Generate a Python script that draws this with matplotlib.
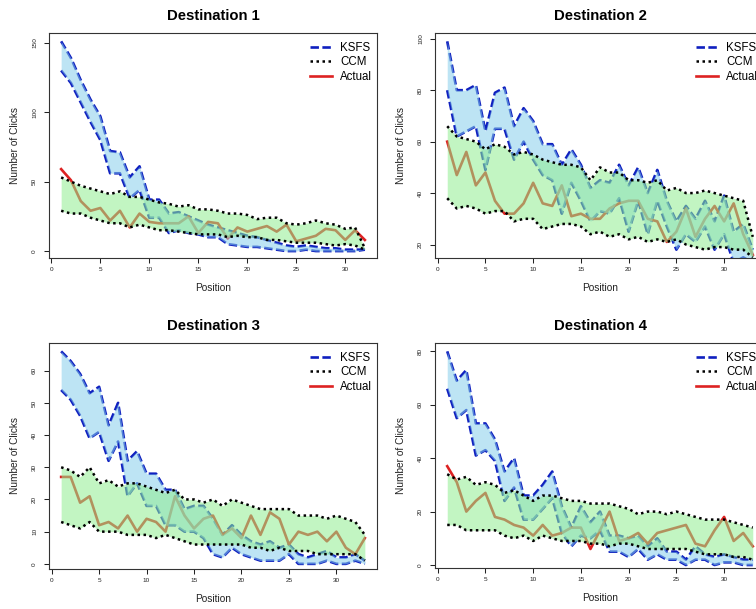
import numpy as np
import matplotlib
matplotlib.use('Agg')
import matplotlib.pyplot as plt
from matplotlib.lines import Line2D

plt.rcParams['font.family'] = ['Liberation Sans', 'DejaVu Sans']

# ---- data ----
titles = ['Destination 1', 'Destination 2', 'Destination 3', 'Destination 4']

ksfs_hi_1 = [151, 139, 123, 109, 97, 72, 71, 53, 61, 37, 37, 27, 28, 25, 22, 19,
             17, 15, 13, 11, 10, 8, 6, 4, 3, 4, 3, 2, 2, 1, 1, 1]
ksfs_lo_1 = [130, 121, 107, 93, 80, 56, 56, 38, 44, 24, 24, 13, 15, 13, 12, 10,
             10, 5, 4, 3, 3, 2, 1, 0, 0, 1, 0, 0, 0, 0, 0, 1]
ccm_hi_1 = [53, 50, 47, 45, 43, 41, 43, 39, 39, 37, 35, 34, 32, 33, 30, 30,
            29, 27, 27, 26, 23, 24, 24, 20, 19, 20, 22, 20, 19, 16, 17, 2]
ccm_lo_1 = [29, 27, 27, 24, 22, 20, 20, 17, 19, 17, 15, 15, 14, 13, 12, 12,
            12, 10, 11, 10, 10, 8, 8, 7, 6, 6, 6, 5, 4, 5, 4, 1]
actual_1 = [59, 51, 36, 29, 31, 22, 29, 17, 27, 21, 20, 20, 20, 25, 13, 21,
            20, 9, 17, 14, 16, 18, 14, 19, 7, 9, 11, 16, 15, 8, 15, 8]

ksfs_hi_2 = [99, 80, 80, 82, 64, 79, 81, 66, 73, 68, 59, 59, 51, 57, 51, 42, 45,
             44, 51, 43, 50, 40, 49, 37, 29, 35, 30, 37, 29, 39, 25, 28, 18]
ksfs_lo_2 = [80, 62, 64, 66, 49, 65, 65, 53, 60, 53, 47, 45, 32, 44, 37, 29, 33,
             32, 38, 25, 37, 24, 37, 27, 18, 24, 21, 27, 18, 24, 13, 15, 13]
ccm_hi_2 = [66, 62, 61, 60, 57, 59, 58, 55, 56, 55, 53, 52, 51, 51, 50, 45, 50,
            48, 48, 45, 45, 44, 45, 41, 42, 40, 40, 41, 40, 39, 38, 37, 23]
ccm_lo_2 = [38, 34, 35, 34, 32, 33, 33, 29, 30, 30, 26, 27, 28, 28, 27, 24, 25,
            23, 24, 22, 23, 21, 22, 21, 22, 20, 19, 18, 19, 19, 18, 18, 15]
actual_2 = [60, 47, 56, 43, 48, 37, 32, 32, 36, 44, 36, 35, 43, 31, 32, 30, 30,
            34, 36, 37, 37, 30, 29, 21, 25, 34, 23, 30, 35, 29, 36, 24, 16]

ksfs_hi_3 = [66, 63, 59, 53, 55, 43, 50, 32, 35, 28, 28, 23, 23, 17, 18, 18, 14,
             9, 12, 9, 7, 6, 7, 5, 6, 3, 2, 3, 4, 2, 2, 3, 1]
ksfs_lo_3 = [54, 51, 46, 39, 41, 32, 38, 21, 25, 18, 18, 12, 12, 10, 10, 8, 3,
             2, 5, 3, 2, 1, 1, 1, 3, 0, 0, 0, 1, 0, 0, 1, 0]
ccm_hi_3 = [30, 29, 27, 30, 25, 26, 24, 25, 25, 24, 23, 22, 23, 20, 20, 19, 20,
            18, 20, 19, 18, 17, 17, 17, 17, 15, 15, 15, 14, 15, 14, 13, 9]
ccm_lo_3 = [13, 12, 11, 13, 10, 10, 10, 9, 9, 9, 8, 9, 8, 7, 6, 6, 6,
            6, 6, 6, 5, 5, 4, 5, 4, 4, 4, 3, 3, 3, 3, 3, 1]
actual_3 = [27, 27, 19, 21, 12, 13, 11, 15, 10, 14, 13, 10, 21, 15, 11, 14, 15,
            9, 11, 8, 15, 9, 16, 14, 6, 10, 9, 10, 7, 10, 5, 3, 8]

ksfs_hi_4 = [80, 69, 73, 53, 53, 47, 35, 40, 26, 26, 30, 35, 22, 14, 22, 16, 20,
             11, 11, 10, 11, 7, 10, 5, 5, 2, 7, 4, 3, 4, 3, 2, 2]
ksfs_lo_4 = [66, 55, 58, 41, 43, 39, 24, 29, 17, 17, 21, 25, 12, 7, 11, 10, 13,
             5, 5, 3, 6, 2, 4, 2, 2, 0, 2, 2, 0, 1, 1, 0, 0]
ccm_hi_4 = [34, 32, 33, 30, 31, 30, 27, 28, 26, 24, 26, 26, 25, 24, 24, 23, 23,
            23, 22, 21, 19, 20, 20, 19, 20, 19, 18, 17, 17, 17, 16, 15, 14]
ccm_lo_4 = [15, 15, 13, 13, 13, 13, 11, 10, 11, 9, 11, 10, 9, 9, 9, 8, 8,
            7, 8, 8, 7, 6, 6, 6, 6, 6, 5, 4, 4, 4, 3, 3, 2]
actual_4 = [37, 31, 20, 24, 27, 18, 17, 15, 14, 11, 15, 11, 12, 14, 14, 6, 13,
            20, 9, 10, 12, 8, 12, 13, 14, 15, 8, 7, 13, 18, 9, 12, 7]

yticks_1 = [0, 50, 100, 150]
yticks_2 = [20, 40, 60, 80, 100]
yticks_3 = [0, 10, 20, 30, 40, 50, 60]
yticks_4 = [0, 20, 40, 60, 80]
xticks = [0, 5, 10, 15, 20, 25, 30]

KS_COL = '#0f1fbf'
ACT_COL = '#dd2222'
KS_LS = (0, (3.2, 1.3))
CCM_LS = (0, (1.0, 1.4))

W, H = 756, 609


def px_axes(fig, left, top, w, h):
    return fig.add_axes([left / W, 1 - (top + h) / H, w / W, h / H])


def plot_panel(ax, title, hi, lo, chi, clo, act, yticks, wpx, hpx):
    x = np.arange(1, len(hi) + 1)
    # lines first, the translucent bands go over them
    ax.plot(x, hi, color=KS_COL, lw=1.9, ls=KS_LS, zorder=2)
    ax.plot(x, lo, color=KS_COL, lw=1.9, ls=KS_LS, zorder=2)
    ax.plot(x, act, color=ACT_COL, lw=1.9, zorder=2)
    ax.fill_between(x, lo, hi, color='#87ceeb', alpha=0.55, lw=0, zorder=3)
    ax.fill_between(x, clo, chi, color='#90ee90', alpha=0.55, lw=0, zorder=4)
    ax.plot(x, chi, color='black', lw=1.8, ls=CCM_LS, zorder=5)
    ax.plot(x, clo, color='black', lw=1.8, ls=CCM_LS, zorder=5)

    # R style 4% axis expansion
    n = len(x)
    ax.set_xlim(1 - 0.04 * (n - 1), n + 0.04 * (n - 1))
    r = max(hi) - min(hi)
    ax.set_ylim(min(hi) - 0.04 * r, max(hi) + 0.04 * r)

    ax.set_xticks(xticks)
    ax.set_yticks(yticks)
    ax.tick_params(direction='out', length=3.6, width=0.75, labelsize=4.6,
                   colors='#222222')
    ax.tick_params(axis='x', pad=3)
    ax.tick_params(axis='y', labelrotation=90, pad=5)
    for lbl in ax.get_yticklabels():
        lbl.set_va('center')
    for sp in ax.spines.values():
        sp.set_linewidth(0.8)
        sp.set_color('#333333')
        sp.set_zorder(6)

    ax.set_title(title, fontsize=10.7, fontweight='bold', pad=9)
    ax.set_xlabel('Position', fontsize=7.3, color='#222222')
    ax.set_ylabel('Number of Clicks', fontsize=7.3, color='#222222')
    ax.xaxis.set_label_coords(0.5, -25 / hpx)
    ax.yaxis.set_label_coords(-29 / wpx, 0.5)

    handles = [Line2D([], [], color=KS_COL, lw=1.9, ls=KS_LS),
               Line2D([], [], color='black', lw=1.8, ls=CCM_LS),
               Line2D([], [], color=ACT_COL, lw=1.9)]
    leg = ax.legend(handles, ['KSFS', 'CCM', 'Actual'], loc='upper left',
                    bbox_to_anchor=(261 / wpx, 1 - 9 / hpx), frameon=False,
                    borderaxespad=0, borderpad=0, handlelength=1.9,
                    handletextpad=0.7, labelspacing=0.2, fontsize=8.3)
    leg.set_zorder(7)


fig = plt.figure(figsize=(W / 100, H / 100), dpi=100)

panels = [
    (49, 33, 328, 225, ksfs_hi_1, ksfs_lo_1, ccm_hi_1, ccm_lo_1, actual_1, yticks_1),
    (435, 33, 330, 225, ksfs_hi_2, ksfs_lo_2, ccm_hi_2, ccm_lo_2, actual_2, yticks_2),
    (49, 343, 328, 226, ksfs_hi_3, ksfs_lo_3, ccm_hi_3, ccm_lo_3, actual_3, yticks_3),
    (435, 343, 330, 225, ksfs_hi_4, ksfs_lo_4, ccm_hi_4, ccm_lo_4, actual_4, yticks_4),
]

for t, (l, tp, w, h, hi, lo, chi, clo, act, yt) in zip(titles, panels):
    ax = px_axes(fig, l, tp, w, h)
    plot_panel(ax, t, hi, lo, chi, clo, act, yt, w, h)

fig.savefig('out.png', dpi=100)
